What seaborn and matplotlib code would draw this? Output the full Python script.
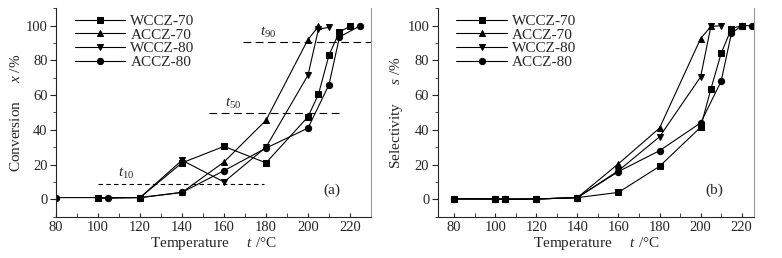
import numpy as np
import pandas as pd
import matplotlib
matplotlib.use("Agg")
import matplotlib.pyplot as plt
from matplotlib.ticker import MultipleLocator
import seaborn as sns

# series names and markers
series = ["WCCZ-70", "ACCZ-70", "WCCZ-80", "ACCZ-80"]
markers = {"WCCZ-70": "s", "ACCZ-70": "^", "WCCZ-80": "v", "ACCZ-80": "o"}

# (a) conversion
conv_x = {
    "WCCZ-70": [100, 120, 140, 160, 180, 200, 205, 210, 215, 220],
    "ACCZ-70": [120, 140, 160, 180, 200, 205],
    "WCCZ-80": [120, 140, 160, 180, 200, 205, 210],
    "ACCZ-80": [80, 105, 120, 140, 160, 180, 200, 210, 215, 225],
}
conv_y = {
    "WCCZ-70": [0.5, 1, 21, 30.5, 21, 47.5, 60.5, 83, 96.5, 99.5],
    "ACCZ-70": [1, 4, 21.5, 45.5, 92, 99.5],
    "WCCZ-80": [1, 22.5, 10, 30, 71.5, 98, 99],
    "ACCZ-80": [1, 1, 1, 4, 16.5, 29.5, 41, 66, 93.5, 100],
}

# (b) selectivity
sel_x = {
    "WCCZ-70": [80, 100, 105, 120, 140, 160, 180, 200, 205, 210, 215, 220],
    "ACCZ-70": [80, 100, 105, 120, 140, 160, 180, 200, 205],
    "WCCZ-80": [80, 100, 105, 120, 140, 160, 180, 200, 205, 210],
    "ACCZ-80": [80, 100, 105, 120, 140, 160, 180, 200, 210, 215, 220, 225],
}
sel_y = {
    "WCCZ-70": [0.3, 0.2, 0.1, 0.2, 1, 4, 19, 41.5, 63.5, 84, 98.3, 100],
    "ACCZ-70": [0.3, 0.2, 0.1, 0.2, 1, 20.5, 41, 92.5, 99.5],
    "WCCZ-80": [0.3, 0.2, 0.1, 0.2, 1, 16.5, 36, 70.5, 99.5, 100],
    "ACCZ-80": [0.3, 0.2, 0.1, 0.2, 1, 16, 28, 44, 68, 95.5, 100, 100],
}

# threshold lines (a): level, start, end
thr_names = ["10", "50", "90"]
thr_level = [9, 49.5, 90.5]
thr_start = [100, 153, 169]
thr_end = [179, 216, 230]


def to_long(xs, ys):
    rows = []
    for s in series:
        for x, y in zip(xs[s], ys[s]):
            rows.append({"series": s, "t": x, "v": y})
    return pd.DataFrame(rows)


sns.set_style("ticks")
plt.rcParams["font.family"] = ["Liberation Serif", "DejaVu Serif"]
plt.rcParams["mathtext.fontset"] = "custom"
plt.rcParams["mathtext.it"] = "Liberation Serif:italic"
plt.rcParams["mathtext.rm"] = "Liberation Serif"

fig = plt.figure(figsize=(7.82, 2.58), dpi=100)
ax_a = fig.add_axes([0.0716, 0.160, 0.4028, 0.808])
ax_b = fig.add_axes([0.5597, 0.160, 0.4045, 0.808])

palette = {s: "black" for s in series}

panels = [
    (ax_a, to_long(conv_x, conv_y), "Conversion     $x$ /%", (80, 230), "(a)"),
    (ax_b, to_long(sel_x, sel_y), "Selectivity     $s$ /%", (72, 226), "(b)"),
]

for ax, df, ylab, xlim, tag in panels:
    sns.lineplot(data=df, x="t", y="v", hue="series", style="series",
                 markers=markers, dashes=False, palette=palette,
                 linewidth=0.8, markersize=4.5, markeredgecolor="black",
                 legend=False, ax=ax, sort=False)
    handles = ax.get_lines()[:4]
    ax.legend(handles, series, loc="upper left", frameon=False,
              handlelength=3.3, handletextpad=0.35, labelspacing=0.0,
              borderaxespad=0.0, bbox_to_anchor=(0.04, 1.0), fontsize=11)
    ax.set_xlim(*xlim)
    ax.set_ylim(-10, 110)
    ax.xaxis.set_major_locator(MultipleLocator(20))
    ax.xaxis.set_minor_locator(MultipleLocator(10))
    ax.yaxis.set_major_locator(MultipleLocator(20))
    ax.yaxis.set_minor_locator(MultipleLocator(10))
    ax.set_yticks([0, 20, 40, 60, 80, 100])
    ax.tick_params(axis="x", which="both", direction="in", length=3, pad=3)
    ax.tick_params(axis="y", which="major", direction="out", length=4, pad=2)
    ax.tick_params(axis="y", which="minor", direction="out", length=2.5)
    ax.tick_params(labelsize=10.5)
    ax.set_xlabel("Temperature     $t$ /°C", fontsize=11, labelpad=1)
    ax.set_ylabel(ylab, fontsize=11, labelpad=2)
    ax.spines["top"].set_visible(False)
    ax.spines["right"].set_color("#999999")
    ax.text(0.875, 0.11, tag, transform=ax.transAxes, ha="center", fontsize=11)

# threshold lines on (a)
for name, lvl, x0, x1, dash in zip(thr_names, thr_level, thr_start, thr_end,
                                   [(0, (4, 3)), (0, (7, 4)), (0, (7, 4))]):
    ax_a.hlines(lvl, x0, x1, colors="black", linestyles=dash, linewidth=0.8)
    ax_a.text(x0 + (x1 - x0) * 0.12 if name != "90" else x0 + 8, lvl + 1.5,
              "$t$$_{" + name + "}$", fontsize=11, ha="left", va="bottom")

fig.savefig("out.png", dpi=100)
